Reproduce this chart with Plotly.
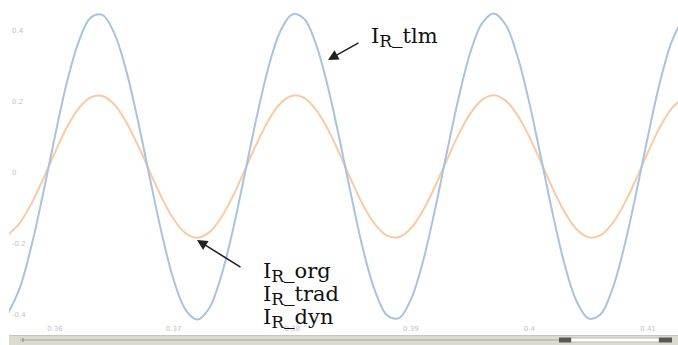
import plotly.graph_objects as go

# Simulated receiving-end currents, sampled every 1 ms
time_s = [0.356, 0.357, 0.358, 0.359, 0.360, 0.361, 0.362, 0.363, 0.364, 0.365,
          0.366, 0.367, 0.368, 0.369, 0.370, 0.371, 0.372, 0.373, 0.374, 0.375,
          0.376, 0.377, 0.378, 0.379, 0.380, 0.381, 0.382, 0.383, 0.384, 0.385,
          0.386, 0.387, 0.388, 0.389, 0.390, 0.391, 0.392, 0.393, 0.394, 0.395,
          0.396, 0.397, 0.398, 0.399, 0.400, 0.401, 0.402, 0.403, 0.404, 0.405,
          0.406, 0.407, 0.408, 0.409, 0.410, 0.411, 0.412, 0.413]

i_r_tlm = [-0.415, -0.344, -0.225, -0.075, 0.086, 0.236, 0.351, 0.418, 0.426, 0.374,
           0.270, 0.127, -0.033, -0.188, -0.318, -0.402, -0.430, -0.398, -0.309, -0.178,
           -0.021, 0.138, 0.279, 0.380, 0.427, 0.415, 0.344, 0.225, 0.075, -0.086,
           -0.236, -0.351, -0.418, -0.426, -0.374, -0.270, -0.127, 0.033, 0.188, 0.318,
           0.402, 0.430, 0.398, 0.309, 0.178, 0.021, -0.138, -0.279, -0.380, -0.427,
           -0.415, -0.344, -0.225, -0.075, 0.086, 0.236, 0.351, 0.418]

i_r_org = [-0.193, -0.160, -0.105, -0.035, 0.040, 0.110, 0.163, 0.194, 0.198, 0.174,
           0.125, 0.059, -0.015, -0.088, -0.148, -0.187, -0.200, -0.185, -0.144, -0.083,
           -0.010, 0.064, 0.130, 0.177, 0.199, 0.193, 0.160, 0.105, 0.035, -0.040,
           -0.110, -0.163, -0.194, -0.198, -0.174, -0.125, -0.059, 0.015, 0.088, 0.148,
           0.187, 0.200, 0.185, 0.144, 0.083, 0.010, -0.064, -0.130, -0.177, -0.199,
           -0.193, -0.160, -0.105, -0.035, 0.040, 0.110, 0.163, 0.194]

x_ticks = [0.36, 0.37, 0.38, 0.39, 0.40, 0.41]
x_tick_labels = ["0.36", "0.37", "0.38", "0.39", "0.4", "0.41"]
y_ticks = [0.4, 0.2, 0, -0.2, -0.4]
y_tick_labels = ["0.4", "0.2", "0", "-0.2", "-0.4"]

W, H = 678, 345
ML, MB = 9, 10
PW, PH = W - ML, H - MB


def px(x):
    return (x - ML) / PW


def py(y):
    return (PH - y) / PH


fig = go.Figure()
fig.add_trace(go.Scatter(x=time_s, y=i_r_org, mode="lines",
                         line=dict(color="#f9caa3", width=2, shape="spline"),
                         hoverinfo="skip"))
fig.add_trace(go.Scatter(x=time_s, y=i_r_tlm, mode="lines",
                         line=dict(color="#a9c3df", width=2, shape="spline"),
                         hoverinfo="skip"))

tick_font = dict(family="DejaVu Sans", size=7, color="#c4c4c4")

fig.update_xaxes(range=[0.35612, 0.41253], tickvals=x_ticks, ticktext=x_tick_labels,
                 ticklabelposition="inside", ticks="", showgrid=False,
                 zeroline=False, showline=False, tickfont=tick_font)
fig.update_yaxes(range=[-0.4733, 0.4677], tickvals=y_ticks, ticktext=y_tick_labels,
                 ticklabelposition="inside", ticks="", showgrid=False,
                 zeroline=False, showline=False, tickfont=tick_font,
                 ticklabelshift=6)

# scrollbar strip along the bottom
shapes = [
    dict(type="rect", xref="paper", yref="paper", x0=px(9), x1=px(678),
         y0=py(345), y1=py(335), fillcolor="#dddad2", line=dict(width=0), layer="above"),
    dict(type="line", xref="paper", yref="paper", x0=px(9), x1=px(678),
         y0=py(335.5), y1=py(335.5), line=dict(color="#c9c6bd", width=1)),
    dict(type="line", xref="paper", yref="paper", x0=px(20), x1=px(560),
         y0=py(340), y1=py(340), line=dict(color="#a9a69d", width=1)),
    dict(type="line", xref="paper", yref="paper", x0=px(23), x1=px(23),
         y0=py(338), y1=py(342), line=dict(color="#8a877f", width=1)),
    dict(type="rect", xref="paper", yref="paper", x0=px(571), x1=px(659),
         y0=py(342), y1=py(338), fillcolor="#ffffff", line=dict(color="#bdbab2", width=1)),
    dict(type="rect", xref="paper", yref="paper", x0=px(559), x1=px(571),
         y0=py(342.5), y1=py(337.5), fillcolor="#5a5853", line=dict(width=0)),
    dict(type="rect", xref="paper", yref="paper", x0=px(659), x1=px(672),
         y0=py(342.5), y1=py(337.5), fillcolor="#5a5853", line=dict(width=0)),
]

label_font = dict(family="DejaVu Serif", size=21, color="#111111")
sub_r = "<sub><span style='font-size:17px'>R</span></sub>"

annotations = [
    dict(xref="paper", yref="paper", x=px(369), y=py(37), text="I" + sub_r + "_tlm",
         showarrow=False, xanchor="left", yanchor="middle", font=label_font),
    dict(xref="paper", yref="paper", x=px(328), y=py(60), text="", showarrow=True,
         ax=32, ay=-18, arrowhead=2, arrowsize=1.3, arrowwidth=1.6, arrowcolor="#222222"),
    dict(xref="paper", yref="paper", x=px(261), y=py(272), text="I" + sub_r + "_org",
         showarrow=False, xanchor="left", yanchor="middle", font=label_font),
    dict(xref="paper", yref="paper", x=px(261), y=py(295), text="I" + sub_r + "_trad",
         showarrow=False, xanchor="left", yanchor="middle", font=label_font),
    dict(xref="paper", yref="paper", x=px(261), y=py(318), text="I" + sub_r + "_dyn",
         showarrow=False, xanchor="left", yanchor="middle", font=label_font),
    dict(xref="paper", yref="paper", x=px(197), y=py(240), text="", showarrow=True,
         ax=45, ay=28, arrowhead=2, arrowsize=1.3, arrowwidth=1.6, arrowcolor="#222222"),
]

fig.update_layout(width=W, height=H, margin=dict(l=ML, r=0, t=0, b=MB),
                  paper_bgcolor="white", plot_bgcolor="white", showlegend=False,
                  shapes=shapes, annotations=annotations)

fig.write_html("out.html")
